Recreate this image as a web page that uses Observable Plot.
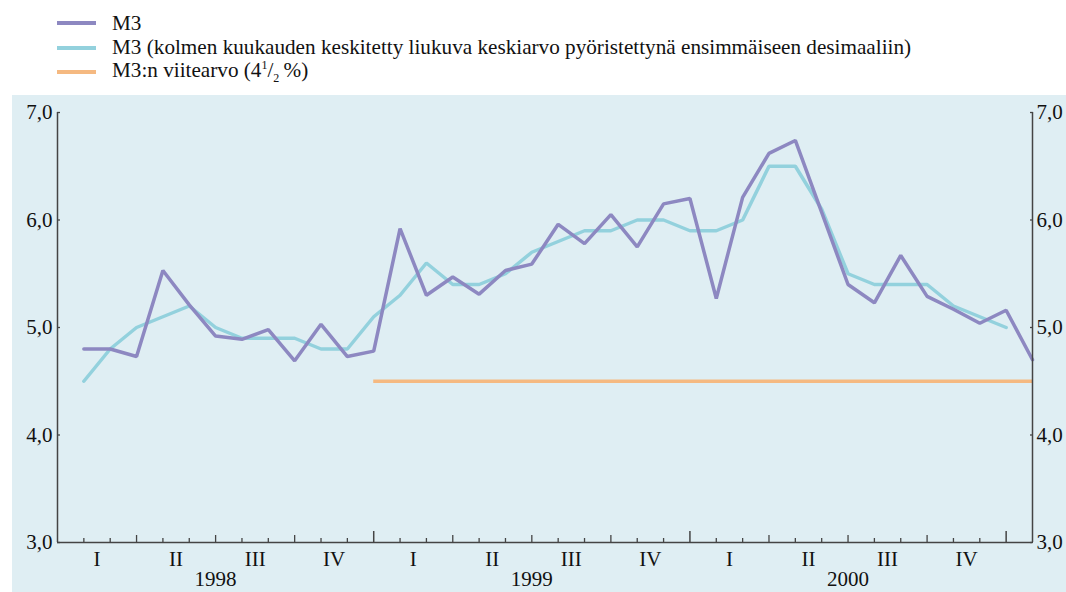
<!DOCTYPE html>
<html><head><meta charset="utf-8">
<script src="https://cdn.jsdelivr.net/npm/d3@7"></script>
<script src="https://cdn.jsdelivr.net/npm/@observablehq/plot@0.6"></script>
<style>
body{margin:0;background:#fff;font-family:"Liberation Serif","Times New Roman",serif;color:#111;}
#legend{height:95px;box-sizing:border-box;padding-top:11px;padding-left:57px;font-size:21.2px;}
.row{display:flex;align-items:center;height:24.5px;white-space:nowrap;}
.sw{width:39px;height:4px;margin-right:16px;flex:none;}
.fr{font-size:12px;}
#chart{margin-left:12px;}
</style></head><body>
<div id="legend"></div>
<div id="chart"></div>
<script>
// Monthly observations, Jan 1998 – Jan 2001 (annual growth, %)
const m3 = [4.80, 4.80, 4.73, 5.53, 5.21, 4.92, 4.89, 4.98, 4.69, 5.03, 4.73, 4.78,
            5.92, 5.30, 5.47, 5.31, 5.53, 5.59, 5.96, 5.78, 6.05, 5.75, 6.15, 6.20,
            5.27, 6.21, 6.62, 6.74, 6.07, 5.40, 5.23, 5.67, 5.29, 5.17, 5.04, 5.16,
            4.70];
// Three-month centred moving average, Jan 1998 – Dec 2000
const m3avg = [4.5, 4.8, 5.0, 5.1, 5.2, 5.0, 4.9, 4.9, 4.9, 4.8, 4.8, 5.1,
               5.3, 5.6, 5.4, 5.4, 5.5, 5.7, 5.8, 5.9, 5.9, 6.0, 6.0, 5.9,
               5.9, 6.0, 6.5, 6.5, 6.1, 5.5, 5.4, 5.4, 5.4, 5.2, 5.1, 5.0];
const referenceValue = 4.5;
const referenceStartMonth = 12;   // Jan 1999 (months since Jan 1998)
const years = ["1998", "1999", "2000"];
const quarters = ["I", "II", "III", "IV"];
const yTicks = [3, 4, 5, 6, 7];
const legendLabels = [
  "M3",
  "M3 (kolmen kuukauden keskitetty liukuva keskiarvo pyöristettynä ensimmäiseen desimaaliin)",
  "M3:n viitearvo (4<sup class=\"fr\">1</sup>/<sub class=\"fr\">2</sub>&#8201;%)"
];

const colPurple = "#8d88c1", colCyan = "#93d1dd", colOrange = "#f5b981", axisCol = "#444";
const legendColors = [colPurple, colCyan, colOrange];

document.getElementById("legend").innerHTML = legendLabels.map((t, i) =>
  `<div class="row"><div class="sw" style="background:${legendColors[i]}"></div><span>${t}</span></div>`).join("");

// each monthly value is plotted at the end of its month
const m3Data = m3.map((v, i) => ({x: i + 1, v}));
const avgData = m3avg.map((v, i) => ({x: i + 1, v}));
const nMonths = m3.length;               // axis runs to end of Jan 2001
const refData = [{x1: referenceStartMonth, x2: nMonths, v: referenceValue}];

const boundaries = d3.range(1, nMonths);
const yearTicks = boundaries.filter(m => m % 12 === 0);
const quarterTicks = boundaries.filter(m => m % 3 === 0 && m % 12 !== 0);
const monthTicks = boundaries.filter(m => m % 3 !== 0);
const quarterLabels = years.flatMap((y, yi) => quarters.map((q, qi) => ({label: q, x: yi * 12 + qi * 3 + 1.5})));
const yearLabels = years.map((y, yi) => ({label: y, x: yi * 12 + 6}));
const fmt = d => d.toFixed(1).replace(".", ",");

const chart = Plot.plot({
  width: 1054, height: 497,
  marginLeft: 45, marginRight: 34, marginTop: 17, marginBottom: 50,
  style: {background: "#dfeef3", fontFamily: "'Liberation Serif', 'Times New Roman', serif", fontSize: "21px", color: "#111", overflow: "visible"},
  x: {type: "linear", domain: [0, nMonths], axis: null, label: null},
  y: {domain: [3, 7], axis: null, label: null},
  marks: [
    Plot.ruleY(refData, {y: "v", x1: "x1", x2: "x2", stroke: colOrange, strokeWidth: 3.5}),
    Plot.line(avgData, {x: "x", y: "v", stroke: colCyan, strokeWidth: 3.5, strokeLinejoin: "miter"}),
    Plot.line(m3Data, {x: "x", y: "v", stroke: colPurple, strokeWidth: 3.5, strokeLinejoin: "miter"}),
    Plot.ruleX([0, nMonths], {y1: 3, y2: 7, stroke: axisCol, strokeWidth: 1.5}),
    Plot.ruleY([3], {x1: 0, x2: nMonths, stroke: axisCol, strokeWidth: 1.5}),
    Plot.axisX({ticks: monthTicks, tickSize: 4, dy: -4, fill: "none", stroke: axisCol, strokeWidth: 1.3}),
    Plot.axisX({ticks: quarterTicks, tickSize: 7, dy: -7, fill: "none", stroke: axisCol, strokeWidth: 1.3}),
    Plot.axisX({ticks: yearTicks, tickSize: 11, dy: -11, fill: "none", stroke: axisCol, strokeWidth: 1.5}),
    Plot.axisY({anchor: "left", ticks: yTicks, tickSize: 3, dx: 3, fill: "none", stroke: axisCol, strokeWidth: 1.3}),
    Plot.axisY({anchor: "right", ticks: yTicks, tickSize: 3, dx: -3, fill: "none", stroke: axisCol, strokeWidth: 1.3}),
    Plot.axisY({anchor: "left", ticks: yTicks, tickSize: 0, tickPadding: 5, tickFormat: fmt, fill: "#111"}),
    Plot.axisY({anchor: "right", ticks: yTicks, tickSize: 0, tickPadding: 4, tickFormat: fmt, fill: "#111"}),
    Plot.text(quarterLabels, {x: "x", text: "label", frameAnchor: "bottom", dy: 23, fill: "#111"}),
    Plot.text(yearLabels, {x: "x", text: "label", frameAnchor: "bottom", dy: 43, fill: "#111"})
  ]
});
document.getElementById("chart").appendChild(chart);
</script>
</body></html>
